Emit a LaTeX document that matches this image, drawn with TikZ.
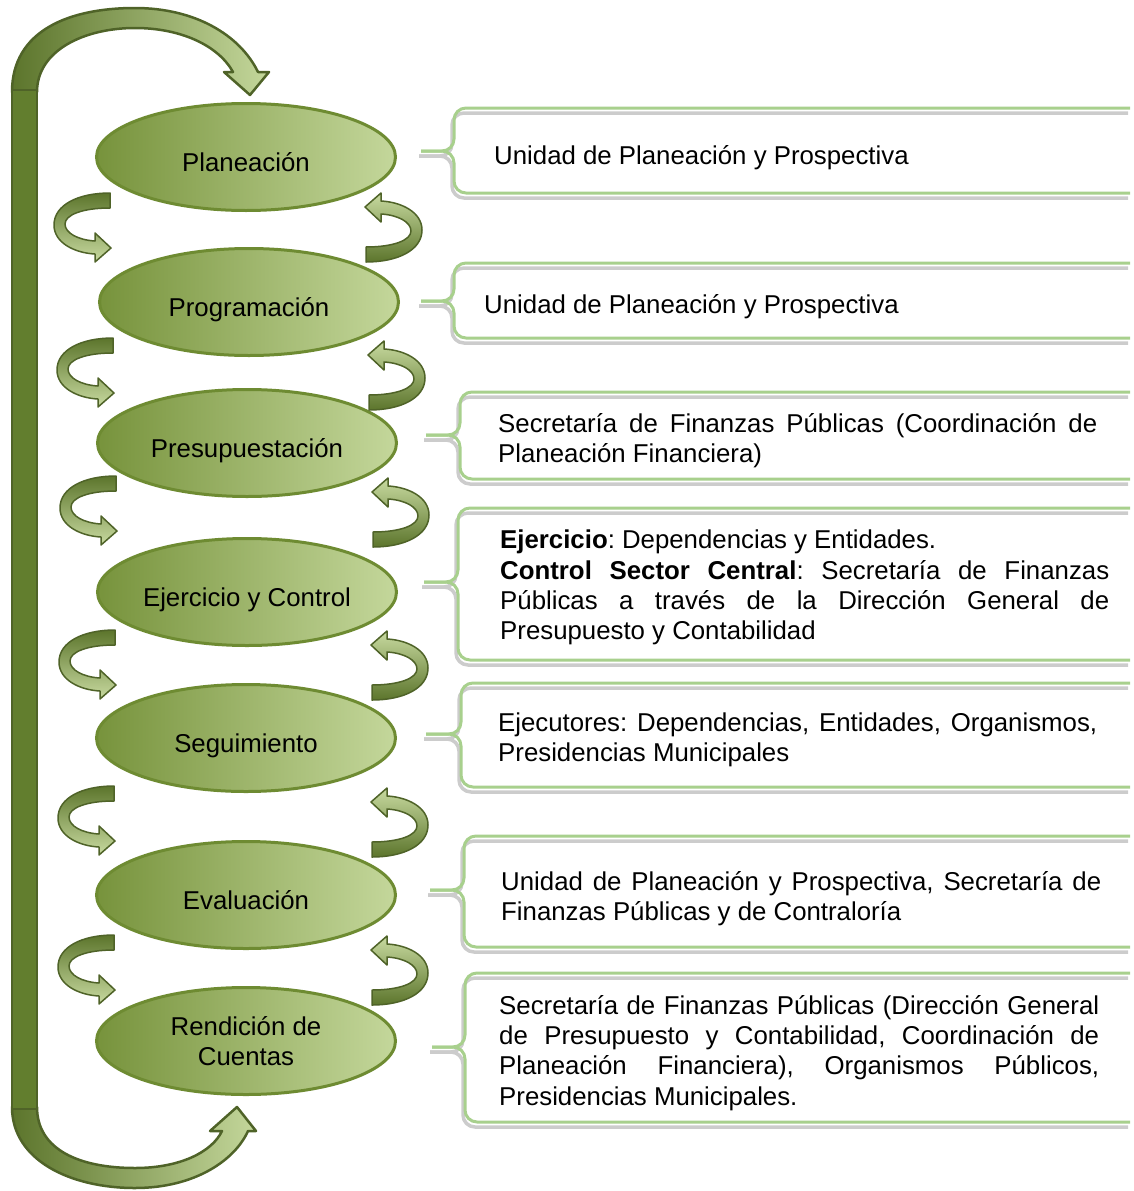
\documentclass[tikz,border=0pt]{standalone}
\usepackage{fontspec}
\setmainfont{Liberation Sans}
\usetikzlibrary{positioning, shapes.geometric}
\hyphenpenalty=10000
\exhyphenpenalty=10000
\frenchspacing

\definecolor{stagedark}{RGB}{119,147,60}
\definecolor{stagelight}{RGB}{196,215,155}
\definecolor{stageline}{RGB}{110,139,50}
\definecolor{bargreen}{RGB}{98,126,46}
\definecolor{barline}{RGB}{79,99,40}
\definecolor{turndark}{RGB}{92,117,44}
\definecolor{turnlight}{RGB}{200,218,160}
\definecolor{boxgreen}{RGB}{168,208,141}

\tikzset{
  stage/.style={ellipse, draw=stageline, line width=3pt, left color=stagedark, right color=stagelight,
    minimum width=299pt, minimum height=107pt, inner sep=0pt, align=center,
    font={\fontsize{25.8}{30.3}\selectfont}},
  stage text/.style={text height=28pt, text depth=0pt},
  info/.style={anchor=west, inner sep=0pt, align=justify, text width=600pt,
    font={\fontsize{25.8}{30.3}\selectfont}},
  bracket/.style={draw=boxgreen, line width=3pt, rounded corners=12pt,
    preaction={draw=black!20, line width=3.5pt, transform canvas={xshift=-2pt, yshift=-5pt}}},
  bigbar/.style={fill=bargreen, draw=barline, line width=2.5pt},
  bigcurve/.style={draw=barline, line width=2.5pt, line join=round, left color=turndark, right color=stagelight},
  turnarrow/.style={draw=barline, line width=1.5pt, line join=round, top color=turndark, bottom color=turnlight},
  flipped/.style={rotate=180, turnarrow/.append style={top color=turnlight, bottom color=turndark}},
  uturn/.pic={
    \filldraw[turnarrow] (0,0) .. controls (-32,0) and (-56,12) .. (-56,32)
      .. controls (-56,50) and (-35,60) .. (-15,61) -- (-15,69) -- (1,55) -- (-15,40) -- (-15,48)
      .. controls (-32,47) and (-45,40) .. (-45,31) .. controls (-45,22) and (-28,15) .. (0,15) -- cycle;
  }
}

\begin{document}
\begin{tikzpicture}[x=1pt, y=-1pt]

\useasboundingbox (0,0) rectangle (1133,1191);

% big return arrow
\filldraw[bigcurve] (12,92) .. controls (12,30) and (70,8) .. (135,8) .. controls (195,8) and (240,35) .. (258,72)
  -- (269,72) -- (250,95) -- (224,72) -- (233,72)
  .. controls (218,45) and (180,28) .. (135,28) .. controls (85,28) and (37,50) .. (37,92) -- cycle;
\filldraw[bigcurve] (12,1107) .. controls (12,1160) and (70,1188) .. (135,1188) .. controls (195,1188) and (235,1160) .. (248,1131)
  -- (256,1131) -- (237,1107) -- (210,1131) -- (222,1131)
  .. controls (212,1152) and (180,1168) .. (135,1168) .. controls (80,1168) and (37,1150) .. (37,1107) -- cycle;
\filldraw[bigbar] (12,90) rectangle (37,1109);

% stages
\node[stage, stage text] (plan) at (246,157) {Planeación};
\node[stage, stage text] (prog) at (249,302) {Programación};
\node[stage, stage text] (pres) at (247,443) {Presupuestación};
\node[stage, stage text] (ejer) at (247,592) {Ejercicio y Control};
\node[stage, stage text] (segu) at (246,738) {Seguimiento};
\node[stage, stage text] (eval) at (246,895) {Evaluación};
\node[stage] (rend) at (246,1041) {Rendición de\\Cuentas};

% turning arrows
\pic at (110,193) {uturn};
\pic at (113,338) {uturn};
\pic at (116,476) {uturn};
\pic at (115,630) {uturn};
\pic at (114,786) {uturn};
\pic at (114,935) {uturn};

\pic[flipped] at (366,262) {uturn};
\pic[flipped] at (369,410) {uturn};
\pic[flipped] at (373,547) {uturn};
\pic[flipped] at (372,700) {uturn};
\pic[flipped] at (372,857) {uturn};
\pic[flipped] at (372,1005) {uturn};

% brackets
\draw[bracket] (1130,108) -- (454,108) -- (454,151) -- (421,151);
\draw[bracket] (421,151) -- (454,151) -- (454,193) -- (1130,193);

\draw[bracket] (1130,263) -- (454,263) -- (454,301) -- (421,301);
\draw[bracket] (421,301) -- (454,301) -- (454,338) -- (1130,338);

\draw[bracket] (1130,392) -- (460,392) -- (460,435) -- (426,435);
\draw[bracket] (426,435) -- (460,435) -- (460,479) -- (1130,479);

\draw[bracket] (1130,508) -- (458,508) -- (458,582) -- (424,582);
\draw[bracket] (424,582) -- (458,582) -- (458,660) -- (1130,660);

\draw[bracket] (1130,683) -- (461,683) -- (461,734) -- (426,734);
\draw[bracket] (426,734) -- (461,734) -- (461,787) -- (1130,787);

\draw[bracket] (1130,836) -- (464,836) -- (464,890) -- (430,890);
\draw[bracket] (430,890) -- (464,890) -- (464,947) -- (1130,947);

\draw[bracket] (1130,973) -- (465,973) -- (465,1047) -- (432,1047);
\draw[bracket] (432,1047) -- (465,1047) -- (465,1122) -- (1130,1122);

% texts
\node[info] (planinfo) at (494,158) {Unidad de Planeación y Prospectiva};
\node[info] (proginfo) at (484,307) {Unidad de Planeación y Prospectiva};
\node[info, text width=599pt] (presinfo) at (498,441) {Secretaría de Finanzas Públicas (Coordinación de\linebreak Planeación Financiera)};
\node[info, text width=609pt] (ejerinfo) at (500,587.5) {\textbf{Ejercicio}: Dependencias y Entidades.\\
  \textbf{Control Sector Central}: Secretaría de Finanzas\linebreak Públicas a través de la Dirección General de\linebreak Presupuesto y Contabilidad};
\node[info, text width=599pt] (seguinfo) at (498,740) {Ejecutores: Dependencias, Entidades, Organismos,\linebreak Presidencias Municipales};
\node[info, text width=600pt] (evalinfo) at (501,899) {Unidad de Planeación y Prospectiva, Secretaría de\linebreak Finanzas Públicas y de Contraloría};
\node[info, text width=600pt] (rendinfo) at (499,1053) {Secretaría de Finanzas Públicas (Dirección General\linebreak de Presupuesto y Contabilidad, Coordinación de\linebreak Planeación Financiera), Organismos Públicos,\linebreak Presidencias Municipales.};

\end{tikzpicture}
\end{document}
